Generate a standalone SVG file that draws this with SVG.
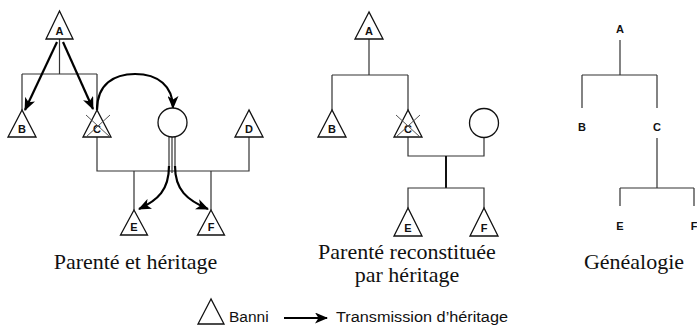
<svg xmlns="http://www.w3.org/2000/svg" width="697" height="326" viewBox="0 0 697 326">
<defs>
<style>
.tri{fill:#fff;stroke:#111;stroke-width:1.3;stroke-linejoin:miter}
.circ{fill:#fff;stroke:#111;stroke-width:1.3}
.ln{fill:none;stroke:#333;stroke-width:1.2}
.thick{fill:none;stroke:#111;stroke-width:2}
.arr{fill:none;stroke:#000;stroke-width:2.2;marker-end:url(#ah)}
.x{stroke:#555;stroke-width:1}
.lbl{font-family:"Liberation Sans",Arial,sans-serif;font-weight:bold;font-size:11px;text-anchor:middle;fill:#111}
.cap{font-family:"Liberation Serif","Times New Roman",serif;font-size:22px;text-anchor:middle;fill:#111}
.leg{font-family:"Liberation Sans",Arial,sans-serif;font-size:15.5px;fill:#111}
</style>
<marker id="ah" viewBox="0 0 13 11" refX="12" refY="5.5" markerWidth="13" markerHeight="11" markerUnits="userSpaceOnUse" orient="auto">
<path d="M0,0 L13,5.5 L0,11 L3.5,5.5 z" fill="#000"/>
</marker>
</defs>

<g id="connectors">
<path class="ln" d="M59.5,39 V74 M22,74 H97 M22,74 V110 M97,74 V110"/>
<path class="ln" d="M97,137 V171 H249 V137"/>
<path class="ln" d="M134,171 V210 M211,171 V210"/>
<path class="ln" d="M172,137 V173"/>
<path class="ln" d="M169,137 V168 M175,137 V168"/>
<path class="arr" d="M57,42 L25,110"/>
<path class="arr" d="M63,42 L93,109"/>
<path class="arr" d="M97,110 C97,84 114,74 135,74 C158,74 173,86 173,108"/>
<path class="arr" d="M169,166 C169,190 158,200 139,209"/>
<path class="arr" d="M175,166 C175,190 187,200 208,209"/>
<path class="ln" d="M369,39 V75 M332,75 H408 M332,75 V110 M408,75 V110"/>
<path class="ln" d="M408,137 V156 H484 V137.5"/>
<path class="thick" d="M446,156 V188"/>
<path class="ln" d="M408,208 V188 H484 V208"/>
<path class="ln" d="M620,40 V75 M582,75 H657 M582,75 V108 M657,75 V108"/>
<path class="ln" d="M657,138 V188 M620,188 H694 M620,188 V206 M694,188 V206"/>
<path class="arr" d="M284,318 L327,318"/>
</g>

<g id="left-A"><polygon class="tri" points="59.5,11 46,39 73,39"/><text class="lbl" x="59.5" y="34.5">A</text></g>
<g id="left-B"><polygon class="tri" points="22,110 8,137 36,137"/><text class="lbl" x="22" y="132.5">B</text></g>
<g id="left-C"><polygon class="tri" points="97,110 83,137 111,137"/><text class="lbl" x="97" y="132.5">C</text><line class="x" x1="86" y1="115" x2="110" y2="137"/><line class="x" x1="86" y1="137" x2="110" y2="115"/></g>
<g id="left-wife"><circle class="circ" cx="172.5" cy="122.5" r="14.5"/></g>
<g id="left-D"><polygon class="tri" points="249,110 235,137 263,137"/><text class="lbl" x="249" y="132.5">D</text></g>
<g id="left-E"><polygon class="tri" points="134,210 120.5,235 147.5,235"/><text class="lbl" x="134" y="230.5">E</text></g>
<g id="left-F"><polygon class="tri" points="211,210 197.5,235 224.5,235"/><text class="lbl" x="211" y="230.5">F</text></g>

<g id="mid-A"><polygon class="tri" points="369,12 355,39 383,39"/><text class="lbl" x="369" y="34.5">A</text></g>
<g id="mid-B"><polygon class="tri" points="332,110 318,137 346,137"/><text class="lbl" x="332" y="132.5">B</text></g>
<g id="mid-C"><polygon class="tri" points="408,110 394,137 422,137"/><text class="lbl" x="408" y="132.5">C</text><line class="x" x1="396" y1="115" x2="420" y2="137"/><line class="x" x1="396" y1="137" x2="420" y2="115"/></g>
<g id="mid-wife"><circle class="circ" cx="484" cy="123" r="14.5"/></g>
<g id="mid-E"><polygon class="tri" points="408,208 394,236 422,236"/><text class="lbl" x="408" y="231.5">E</text></g>
<g id="mid-F"><polygon class="tri" points="484,208 470,236 498,236"/><text class="lbl" x="484" y="231.5">F</text></g>

<g id="gen-A"><text class="lbl" x="620" y="33">A</text></g>
<g id="gen-B"><text class="lbl" x="582" y="131">B</text></g>
<g id="gen-C"><text class="lbl" x="657" y="131">C</text></g>
<g id="gen-E"><text class="lbl" x="620" y="230">E</text></g>
<g id="gen-F"><text class="lbl" x="694" y="230">F</text></g>

<g id="captions">
<text class="cap" x="135.5" y="269">Parenté et héritage</text>
<text class="cap" x="407" y="259">Parenté reconstituée</text>
<text class="cap" x="407" y="282">par héritage</text>
<text class="cap" x="634" y="269">Généalogie</text>
</g>

<g id="legend">
<polygon class="tri" points="211,299 198,324 224,324"/>
<text class="leg" x="229" y="322">Banni</text>
<text class="leg" x="336" y="322" textLength="172" lengthAdjust="spacingAndGlyphs">Transmission d’héritage</text>
</g>
</svg>
